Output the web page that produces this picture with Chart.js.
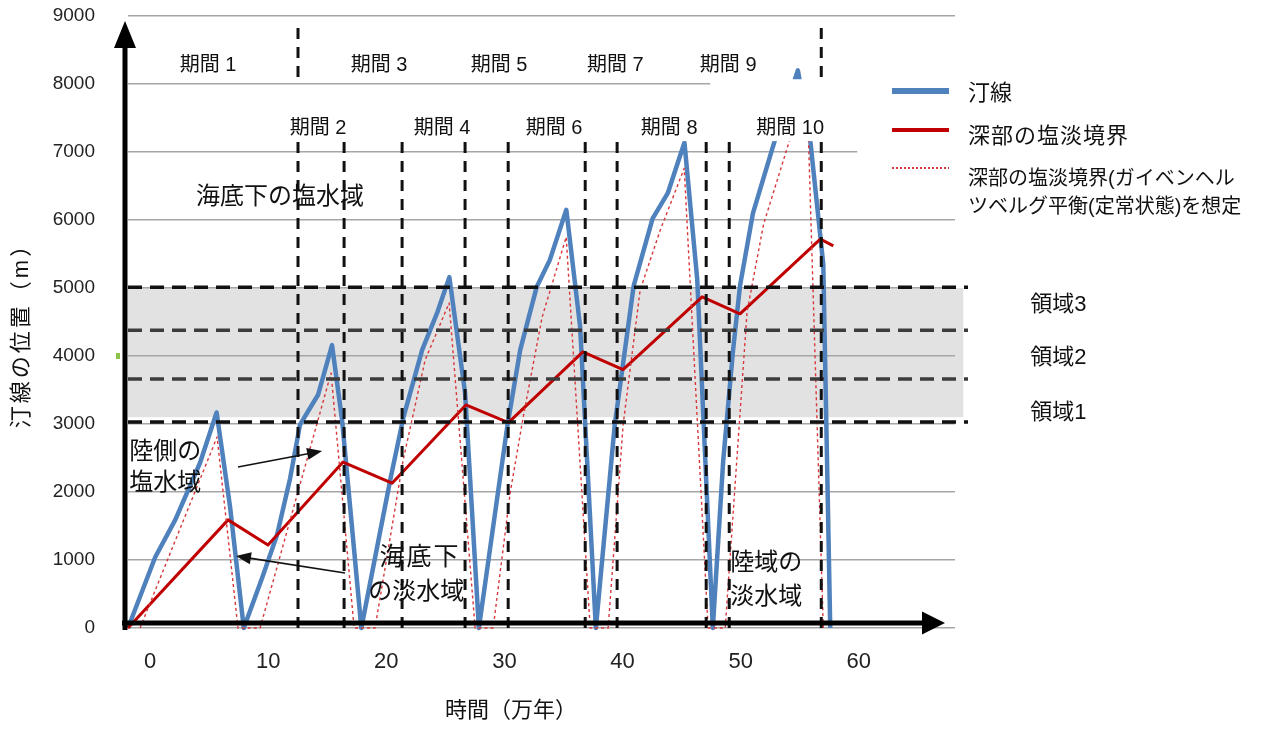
<!DOCTYPE html>
<html>
<head>
<meta charset="utf-8">
<script src="https://cdn.jsdelivr.net/npm/chart.js@4/dist/chart.umd.min.js"></script>
<style>
  html, body { margin: 0; padding: 0; background: #fff; }
  canvas { display: block; }
</style>
</head>
<body>
<canvas id="c" width="1268" height="729"></canvas>
<script>
// 汀線 (shoreline position) — time in 万年, position in m
const shoreTime = [0, 2.3, 4.0, 6.1, 7.5, 8.64, 9.8,
  11.35, 12.62, 13.72, 14.56, 16.09, 17.27, 18.12, 19.75,
  22.2, 23.3, 24.9, 26.2, 27.2, 28.53, 29.7,
  32.1, 33.2, 34.6, 35.7, 37.1, 38.27, 39.6,
  41.2, 42.8, 44.4, 45.7, 47.1, 48.18, 49.5,
  50.38, 51.2, 51.8, 52.9, 54.8, 56.7, 57.75, 58.85, 59.44];
const shorePos = [0, 1040, 1590, 2430, 3170, 1780, 0,
  735, 1370, 2200, 2990, 3430, 4160, 3060, 0,
  2180, 3090, 4090, 4650, 5160, 3460, 0,
  2960, 4090, 5020, 5410, 6150, 4430, 0,
  2990, 5030, 6020, 6400, 7140, 5130, 0,
  2460, 4060, 5030, 6100, 7200, 8200, 7170, 5350, 0];

// 深部の塩淡境界
const boundaryTime = [0, 8.47, 11.85, 18.2, 22.35, 28.6, 32.2, 38.5, 41.9, 48.6, 51.8, 58.6, 59.7];
const boundaryPos = [0, 1590, 1220, 2440, 2130, 3280, 3020, 4060, 3800, 4870, 4620, 5720, 5620];

// 深部の塩淡境界 (ガイベンヘルツベルグ平衡を想定)
const ghTime = [1.02, 7.54, 9.31, 11.18, 17.19, 19.14,
  20.91, 23.29, 25.15, 27.18, 29.38,
  30.91, 32.35, 33.45, 35.05, 37.09, 39.12,
  40.64, 41.91, 43.35, 45.05, 47.08, 49.1,
  50.55, 52.4, 53.8, 56.05, 56.65, 57.6, 58.85];
const ghPos = [0, 2810, 0, 0, 3750, 0,
  0, 2470, 3940, 4780, 0,
  0, 1990, 3100, 4570, 5750, 0,
  0, 2990, 4970, 5850, 6760, 0,
  0, 4650, 5940, 7200, 7770, 7180, 0];

// period boundaries (万年) and period labels
const periodBounds = [14.39, 18.29, 23.2, 28.53, 32.18, 38.7, 41.4, 48.94, 50.89, 58.68];
const periodNames = ['期間 1', '期間 2', '期間 3', '期間 4', '期間 5', '期間 6', '期間 7', '期間 8', '期間 9', '期間 10'];
const periodCenters = [6.77, 16.09, 21.25, 26.59, 31.41, 36.07, 41.24, 45.81, 50.8, 56.05];

// zone levels (m) and zone names
const zoneLevels = [5010, 4380, 3660, 3030];
const zoneBand = [3100, 5000];
const zoneNames = ['領域3', '領域2', '領域1'];

// axis ticks
const xTicks = [0, 10, 20, 30, 40, 50, 60];
const yMin = 0, yMax = 9000, yStep = 1000;

const FONT = '"Liberation Sans", "Noto Sans CJK JP", sans-serif';
const INK = '#111';

const pts = (xs, ys) => xs.map((x, i) => ({ x, y: ys[i] }));

function label(ctx, s, x, y, size, align, spacing) {
  ctx.save();
  ctx.font = size + 'px ' + FONT;
  ctx.fillStyle = INK;
  ctx.textAlign = align || 'center';
  ctx.textBaseline = 'middle';
  if ('letterSpacing' in ctx) ctx.letterSpacing = (spacing || 0) + 'px';
  ctx.fillText(s, x, y);
  ctx.restore();
}

function arrow(ctx, x1, y1, x2, y2, head, half, width) {
  const a = Math.atan2(y2 - y1, x2 - x1);
  const c = Math.cos(a), s = Math.sin(a);
  ctx.beginPath();
  ctx.moveTo(x1, y1);
  ctx.lineTo(x2 - head * 0.7 * c, y2 - head * 0.7 * s);
  ctx.lineWidth = width;
  ctx.stroke();
  ctx.beginPath();
  ctx.moveTo(x2, y2);
  ctx.lineTo(x2 - head * c + half * s, y2 - head * s - half * c);
  ctx.lineTo(x2 - head * c - half * s, y2 - head * s + half * c);
  ctx.closePath();
  ctx.fill();
}

const decorations = {
  id: 'decorations',
  beforeDraw(chart) {
    const { ctx, scales: { x: xs, y: ys } } = chart;
    const X = v => xs.getPixelForValue(v), Y = v => ys.getPixelForValue(v);
    // shaded zone band
    ctx.save();
    ctx.fillStyle = '#e2e2e2';
    ctx.fillRect(X(0), Y(zoneBand[1]), X(70.7) - X(0), Y(zoneBand[0]) - Y(zoneBand[1]));
    ctx.restore();
  },
  afterDatasetsDraw(chart) {
    const { ctx, scales: { x: xs, y: ys } } = chart;
    const X = v => xs.getPixelForValue(v), Y = v => ys.getPixelForValue(v);
    ctx.save();

    // zone boundary lines
    zoneLevels.forEach((lv, i) => {
      ctx.beginPath();
      ctx.setLineDash([14, 8]);
      ctx.lineWidth = 3.5;
      ctx.strokeStyle = (i === 0 || i === zoneLevels.length - 1) ? '#111' : '#3c3c3c';
      ctx.moveTo(X(0), Y(lv));
      ctx.lineTo(X(71.1), Y(lv));
      ctx.stroke();
    });

    // period boundary lines
    periodBounds.forEach(t => {
      ctx.beginPath();
      ctx.setLineDash([11, 8]);
      ctx.lineWidth = 3;
      ctx.strokeStyle = '#111';
      ctx.moveTo(X(t), Y(0));
      ctx.lineTo(X(t), Y(8900));
      ctx.stroke();
    });
    ctx.setLineDash([]);

    // white backing behind the period label rows
    ctx.fillStyle = '#fff';
    const box = (t1, t2, v1, v2) => ctx.fillRect(X(t1), Y(v2), X(t2) - X(t1), Y(v1) - Y(v2));
    box(14.82, 56.22, 8015, 8956);
    box(12.87, 59.86, 7160, 7985);
    box(49.28, 71.2, 7940, 8070);
    box(61.73, 71.2, 6900, 8070);

    // period labels
    periodNames.forEach((name, i) => {
      const row = i % 2 === 0 ? 8276 : 7350;
      label(ctx, name, X(periodCenters[i]), Y(row), 20);
    });

    // annotations
    label(ctx, '海底下の塩水域', X(12.87), Y(6338), 24);
    label(ctx, '陸側の', X(0.1), Y(2588), 24, 'left');
    label(ctx, '塩水域', X(0.1), Y(2132), 24, 'left');
    label(ctx, '海底下', X(24.72), Y(1029), 25, 'center', 2);
    label(ctx, 'の淡水域', X(24.39), Y(529), 24);
    label(ctx, '陸域の', X(50.97), Y(956), 24, 'left');
    label(ctx, '淡水域', X(50.97), Y(456), 24, 'left');

    ctx.fillStyle = INK;
    ctx.strokeStyle = INK;
    arrow(ctx, X(9.31), Y(2368), X(16.43), Y(2603), 15, 6, 1.6);
    arrow(ctx, X(18.37), Y(809), X(9.14), Y(1059), 15, 6, 1.6);

    // zone names
    label(ctx, zoneNames[0], X(78.75), Y(4748), 22);
    label(ctx, zoneNames[1], X(78.75), Y(3970), 22);
    label(ctx, zoneNames[2], X(78.75), Y(3161), 22);

    // axis arrows
    ctx.fillStyle = '#000';
    ctx.strokeStyle = '#000';
    ctx.lineWidth = 5;
    ctx.beginPath();
    ctx.moveTo(125, Y(0) + 2);
    ctx.lineTo(125, 44);
    ctx.stroke();
    ctx.beginPath();
    ctx.moveTo(125, 21); ctx.lineTo(136, 48); ctx.lineTo(114, 48); ctx.closePath(); ctx.fill();
    ctx.beginPath();
    ctx.moveTo(122, 623);
    ctx.lineTo(926, 623);
    ctx.stroke();
    ctx.beginPath();
    ctx.moveTo(945, 623); ctx.lineTo(922, 611.5); ctx.lineTo(922, 634.5); ctx.closePath(); ctx.fill();

    // small marker left of the axis at 4000
    ctx.fillStyle = '#8bc34a';
    ctx.fillRect(116, Y(4000) - 3, 4, 6);

    // legend
    ctx.lineCap = 'butt';
    ctx.strokeStyle = '#4F81BD'; ctx.lineWidth = 6;
    ctx.beginPath(); ctx.moveTo(892, 91); ctx.lineTo(949, 91); ctx.stroke();
    ctx.strokeStyle = '#c00000'; ctx.lineWidth = 4;
    ctx.beginPath(); ctx.moveTo(892, 130); ctx.lineTo(949, 130); ctx.stroke();
    ctx.strokeStyle = '#d8363a'; ctx.lineWidth = 2; ctx.setLineDash([2, 2]);
    ctx.beginPath(); ctx.moveTo(892, 168); ctx.lineTo(949, 168); ctx.stroke();
    ctx.setLineDash([]);
    label(ctx, '汀線', 968, 94, 22, 'left');
    label(ctx, '深部の塩淡境界', 968, 137, 22, 'left', 1);
    label(ctx, '深部の塩淡境界(ガイベンヘル', 968, 179, 20, 'left');
    label(ctx, 'ツベルグ平衡(定常状態)を想定', 968, 207, 20, 'left');

    // axis titles
    label(ctx, '時間（万年）', 511, 711, 22);
    ctx.save();
    ctx.translate(22, 330);
    ctx.rotate(-Math.PI / 2);
    label(ctx, '汀線の位置（m）', 0, 0, 22, 'center', 3);
    ctx.restore();

    ctx.restore();
  }
};

new Chart(document.getElementById('c').getContext('2d'), {
  type: 'line',
  data: {
    datasets: [
      {
        label: '汀線',
        data: pts(shoreTime, shorePos),
        borderColor: '#4F81BD',
        borderWidth: 4.5,
        borderJoinStyle: 'round',
        pointRadius: 0,
        tension: 0,
        clip: false,
        order: 3
      },
      {
        label: '深部の塩淡境界',
        data: pts(boundaryTime, boundaryPos),
        borderColor: '#c00000',
        borderWidth: 3,
        borderJoinStyle: 'round',
        pointRadius: 0,
        tension: 0,
        clip: false,
        order: 2
      },
      {
        label: '深部の塩淡境界(ガイベンヘルツベルグ平衡(定常状態)を想定',
        data: pts(ghTime, ghPos),
        borderColor: '#d8363a',
        borderWidth: 1.4,
        borderDash: [3, 3],
        borderJoinStyle: 'round',
        pointRadius: 0,
        tension: 0,
        clip: false,
        order: 1
      }
    ]
  },
  options: {
    responsive: false,
    animation: false,
    devicePixelRatio: 1,
    layout: { padding: { top: 16, right: 313, left: 0, bottom: 0 } },
    plugins: { legend: { display: false }, tooltip: { enabled: false } },
    scales: {
      x: {
        type: 'linear',
        min: 0,
        max: 70,
        afterFit(s) { s.height = 101; },
        afterBuildTicks(s) { s.ticks = xTicks.map(v => ({ value: v })); },
        grid: { display: false, drawTicks: false },
        border: { display: false },
        ticks: {
          autoSkip: false,
          maxRotation: 0,
          labelOffset: 22,
          padding: 21,
          color: '#222',
          font: { family: FONT, size: 22 },
          callback: v => String(v)
        }
      },
      y: {
        min: yMin,
        max: yMax,
        afterFit(s) { s.width = 128; },
        grid: { color: '#a6a6a6', lineWidth: 1.5, tickLength: 33, tickColor: 'rgba(0,0,0,0)' },
        border: { display: false },
        ticks: {
          stepSize: yStep,
          padding: 0,
          color: '#222',
          font: { family: FONT, size: 19 },
          callback: v => String(v)
        }
      }
    }
  },
  plugins: [decorations]
});
</script>
</body>
</html>
